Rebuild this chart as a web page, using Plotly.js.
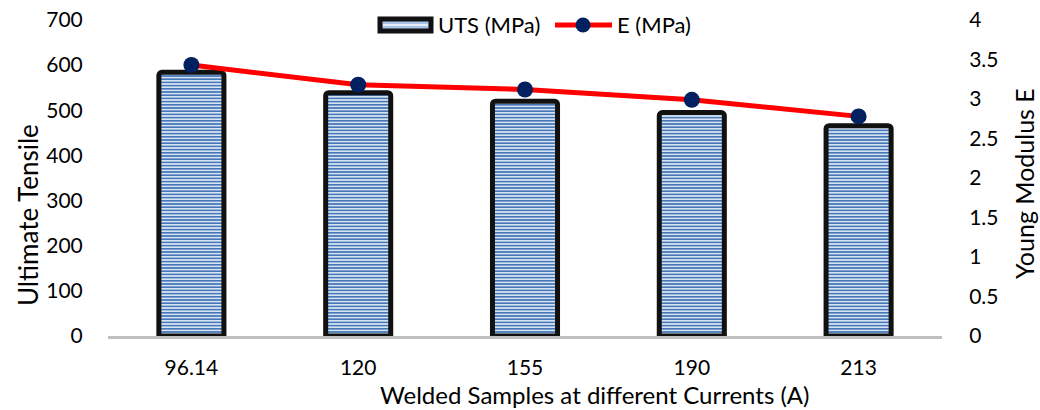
<!DOCTYPE html>
<html>
<head>
<meta charset="utf-8">
<script src="https://cdn.plot.ly/plotly-3.0.1.min.js"></script>
<style>body{margin:0;background:#fff}#chart{width:1040px;height:410px}</style>
</head>
<body>
<div id="chart"></div>
<script>
const currents = ['96.14', '120', '155', '190', '213'];
const utsValues = [584, 539, 520, 495, 466];
const eValues = [3.43, 3.18, 3.12, 2.99, 2.78];
const utsTicks = [0, 100, 200, 300, 400, 500, 600, 700];
const eTicks = [0, 0.5, 1, 1.5, 2, 2.5, 3, 3.5, 4];
const seriesNames = ['UTS (MPa)', 'E (MPa)'];

const FONT = 'Lato, "Open Sans", sans-serif';
const M = {l: 108, r: 98, t: 20, b: 74};
const W = 1040, H = 410;
const PW = W - M.l - M.r, PH = H - M.t - M.b;
// pixel -> paper helpers (for the hand-drawn legend only)
const px = v => (v - M.l) / PW;
const py = v => (H - M.b - v) / PH;

const traces = [
  {
    type: 'bar',
    name: seriesNames[0],
    x: currents,
    y: utsValues,
    yaxis: 'y',
    width: 0.39,
    marker: {
      color: '#c9dbf0',
      line: {color: '#111111', width: 5},
      cornerradius: 3,
      pattern: {shape: '-', fgcolor: '#4677b8', bgcolor: '#d6e3f3', size: 3.2, solidity: 0.5}
    },
    hoverinfo: 'skip'
  },
  {
    type: 'scatter',
    mode: 'lines+markers',
    name: seriesNames[1],
    x: currents,
    y: eValues,
    yaxis: 'y2',
    line: {color: '#ff0000', width: 5},
    marker: {color: '#002060', size: 16},
    hoverinfo: 'skip'
  }
];

const legendShapes = [
  {type: 'rect', xref: 'paper', yref: 'paper', x0: px(380), x1: px(431), y0: py(31), y1: py(19),
   fillcolor: '#a9c3e6', line: {color: '#111111', width: 5}},
  {type: 'line', xref: 'paper', yref: 'paper', x0: px(383), x1: px(428), y0: py(25), y1: py(25),
   line: {color: '#e4edf8', width: 2}},
  {type: 'line', xref: 'paper', yref: 'paper', x0: px(555), x1: px(612), y0: py(25), y1: py(25),
   line: {color: '#ff0000', width: 5}},
  {type: 'circle', xref: 'paper', yref: 'paper', x0: px(575.5), x1: px(590.5), y0: py(32.5), y1: py(17.5),
   fillcolor: '#002060', line: {width: 0}}
];

const layout = {
  width: W,
  height: H,
  margin: Object.assign({autoexpand: false}, M),
  paper_bgcolor: '#ffffff',
  plot_bgcolor: '#ffffff',
  font: {family: FONT, size: 21, color: '#000000'},
  showlegend: false,
  xaxis: {
    type: 'category',
    range: [-0.5, 4.5],
    showline: true, linecolor: '#bfbfbf', linewidth: 2.5,
    showgrid: false, zeroline: false,
    ticks: 'outside', ticklen: 11, tickcolor: 'rgba(0,0,0,0)',
    tickfont: {family: FONT, size: 21}
  },
  yaxis: {
    range: [0, 700],
    tickvals: utsTicks,
    showgrid: false, zeroline: false, showline: false,
    ticks: 'outside', ticklen: 20, tickcolor: 'rgba(0,0,0,0)',
    tickfont: {family: FONT, size: 21}
  },
  yaxis2: {
    range: [0, 4],
    tickvals: eTicks,
    overlaying: 'y', side: 'right',
    showgrid: false, zeroline: false, showline: false,
    ticks: 'outside', ticklen: 22, tickcolor: 'rgba(0,0,0,0)',
    tickfont: {family: FONT, size: 21}
  },
  shapes: legendShapes,
  annotations: [
    {text: seriesNames[0], xref: 'paper', yref: 'paper', x: px(436), y: py(25),
     xanchor: 'left', yanchor: 'middle', showarrow: false,
     font: {family: FONT, size: 22, color: '#000'}},
    {text: seriesNames[1], xref: 'paper', yref: 'paper', x: px(615), y: py(25),
     xanchor: 'left', yanchor: 'middle', showarrow: false,
     font: {family: FONT, size: 22, color: '#000'}},
    {text: 'Ultimate Tensile', xref: 'paper', yref: 'paper', x: px(28), y: py(215),
     xanchor: 'center', yanchor: 'middle', textangle: -90, showarrow: false,
     font: {family: FONT, size: 26, color: '#000'}},
    {text: 'Young Modulus E', xref: 'paper', yref: 'paper', x: px(1024), y: py(184),
     xanchor: 'center', yanchor: 'middle', textangle: -90, showarrow: false,
     font: {family: FONT, size: 25, color: '#000'}},
    {text: 'Welded Samples at different Currents (A)', xref: 'paper', yref: 'paper', x: px(595), y: py(394),
     xanchor: 'center', yanchor: 'middle', showarrow: false,
     font: {family: FONT, size: 24, color: '#000'}}
  ]
};

Plotly.newPlot('chart', traces, layout, {displayModeBar: false, staticPlot: true});
</script>
</body>
</html>
